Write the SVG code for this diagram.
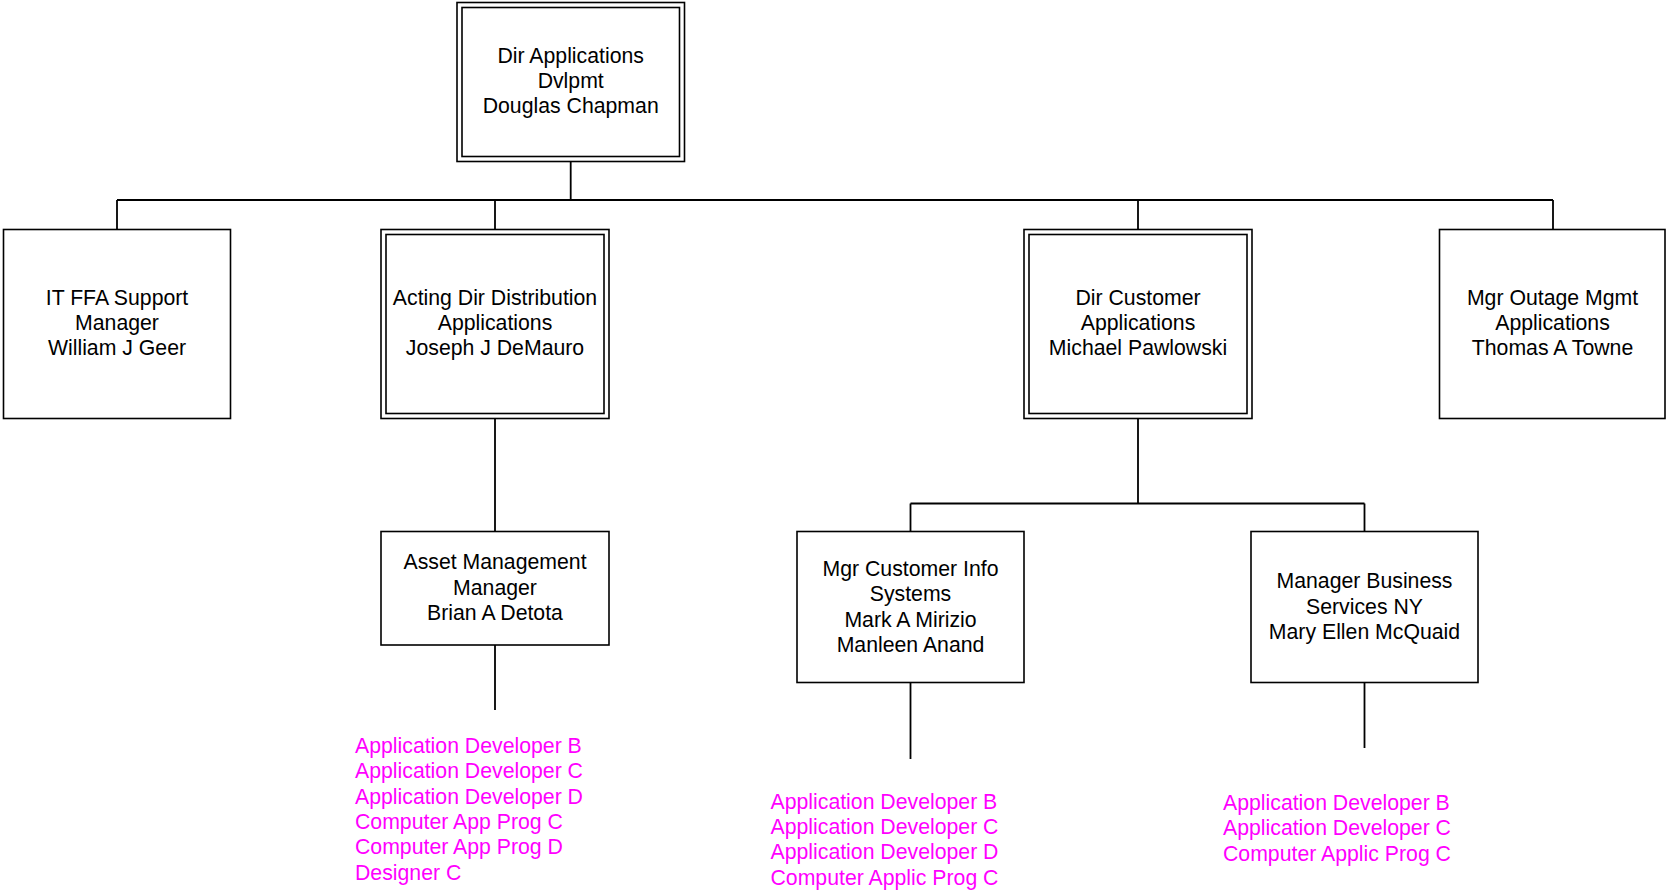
<svg xmlns="http://www.w3.org/2000/svg" width="1666" height="892" viewBox="0 0 1666 892">
<style>
.box{fill:#fff;stroke:#000;stroke-width:1.6}
.t{font-family:"Liberation Sans",Arial,sans-serif;font-size:21.25px;fill:#000;text-anchor:middle}
.m{font-family:"Liberation Sans",Arial,sans-serif;font-size:21.25px;fill:#FF00FF}
.c{fill:none;stroke:#000;stroke-width:1.8}
</style>
<rect width="1666" height="892" fill="#fff"/>
<g id="connectors">
<path class="c" d="M570.7 161.5V200M117 200H1553M117 200V229.5M495 200V229.5M1138 200V229.5M1553 200V229.5"/>
<path class="c" d="M495 418.5V531.5M495 645V710"/>
<path class="c" d="M1138 418.5V503.5M910.5 503.5H1364.5M910.5 503.5V531.5M1364.5 503.5V531.5"/>
<path class="c" d="M910.5 682.5V759M1364.5 682.5V748"/>
</g>
<g id="n-dir-apps">
<rect class="box" x="457" y="2.5" width="227.5" height="159"/>
<rect class="box" x="462" y="7.5" width="217.5" height="149"/>
<text class="t" x="570.7" y="63.3">Dir Applications</text>
<text class="t" x="570.7" y="88.3">Dvlpmt</text>
<text class="t" x="570.7" y="113.3">Douglas Chapman</text>
</g>
<g id="n-it-ffa">
<rect class="box" x="3.5" y="229.5" width="227" height="189"/>
<text class="t" x="117" y="305">IT FFA Support</text>
<text class="t" x="117" y="330">Manager</text>
<text class="t" x="117" y="355">William J Geer</text>
</g>
<g id="n-acting-dir">
<rect class="box" x="381" y="229.5" width="228" height="189"/>
<rect class="box" x="386" y="234.5" width="218" height="179"/>
<text class="t" x="495" y="305">Acting Dir Distribution</text>
<text class="t" x="495" y="330">Applications</text>
<text class="t" x="495" y="355">Joseph J DeMauro</text>
</g>
<g id="n-dir-customer">
<rect class="box" x="1024" y="229.5" width="228" height="189"/>
<rect class="box" x="1029" y="234.5" width="218" height="179"/>
<text class="t" x="1138" y="305">Dir Customer</text>
<text class="t" x="1138" y="330">Applications</text>
<text class="t" x="1138" y="355">Michael Pawlowski</text>
</g>
<g id="n-mgr-outage">
<rect class="box" x="1439.5" y="229.5" width="225.5" height="189"/>
<text class="t" x="1552.5" y="305">Mgr Outage Mgmt</text>
<text class="t" x="1552.5" y="330">Applications</text>
<text class="t" x="1552.5" y="355">Thomas A Towne</text>
</g>
<g id="n-asset">
<rect class="box" x="381" y="531.5" width="228" height="113.5"/>
<text class="t" x="495" y="569.3">Asset Management</text>
<text class="t" x="495" y="594.5">Manager</text>
<text class="t" x="495" y="619.7">Brian A Detota</text>
</g>
<g id="n-mgr-cust-info">
<rect class="box" x="797" y="531.5" width="227" height="151"/>
<text class="t" x="910.5" y="575.5">Mgr Customer Info</text>
<text class="t" x="910.5" y="601">Systems</text>
<text class="t" x="910.5" y="626.5">Mark A Mirizio</text>
<text class="t" x="910.5" y="652">Manleen Anand</text>
</g>
<g id="n-mgr-business">
<rect class="box" x="1251" y="531.5" width="227" height="151"/>
<text class="t" x="1364.5" y="588">Manager Business</text>
<text class="t" x="1364.5" y="613.5">Services NY</text>
<text class="t" x="1364.5" y="639">Mary Ellen McQuaid</text>
</g>
<g id="positions-asset">
<text class="m" x="355" y="752.7">Application Developer B</text>
<text class="m" x="355" y="778.1">Application Developer C</text>
<text class="m" x="355" y="803.5">Application Developer D</text>
<text class="m" x="355" y="828.9">Computer App Prog C</text>
<text class="m" x="355" y="854.3">Computer App Prog D</text>
<text class="m" x="355" y="879.7">Designer C</text>
</g>
<g id="positions-cust-info">
<text class="m" x="770.5" y="808.5">Application Developer B</text>
<text class="m" x="770.5" y="833.9">Application Developer C</text>
<text class="m" x="770.5" y="859.3">Application Developer D</text>
<text class="m" x="770.5" y="884.7">Computer Applic Prog C</text>
</g>
<g id="positions-business">
<text class="m" x="1223" y="810">Application Developer B</text>
<text class="m" x="1223" y="835.3">Application Developer C</text>
<text class="m" x="1223" y="860.6">Computer Applic Prog C</text>
</g>
</svg>
